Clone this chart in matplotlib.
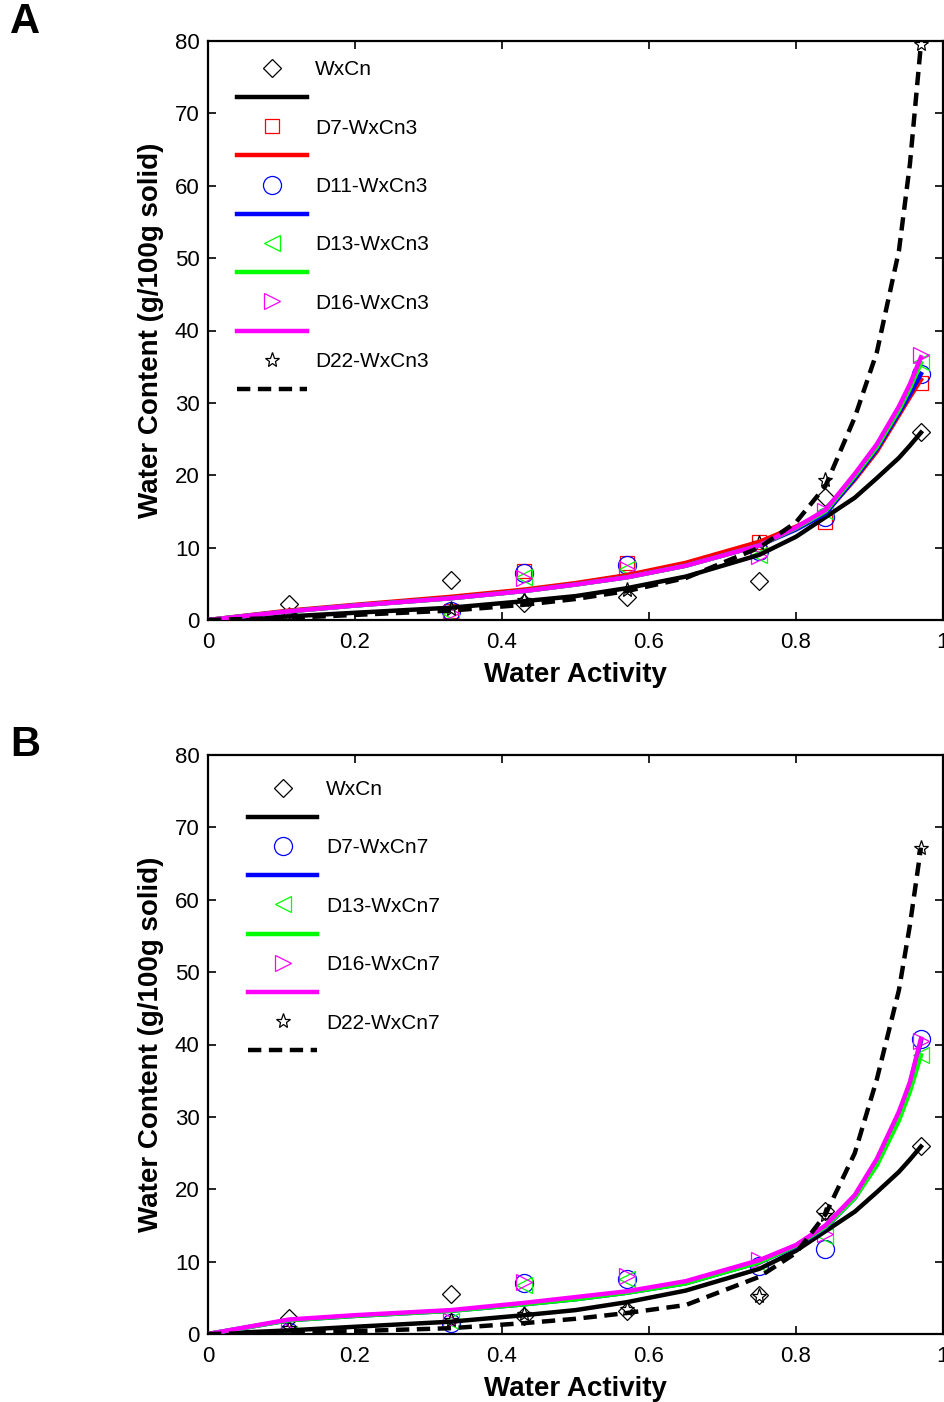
import matplotlib
matplotlib.use('Agg')
import matplotlib.pyplot as plt
from matplotlib.lines import Line2D

plt.rcParams['font.family'] = ['Liberation Sans', 'DejaVu Sans']

# measured points (water activity)
aw = [0.11, 0.33, 0.43, 0.57, 0.75, 0.84, 0.97]

# panel A measured water content
a_wxcn = [2.2, 5.5, 2.4, 3.2, 5.4, 17.0, 26.0]
a_d7 = [0.4, 1.2, 6.8, 7.9, 10.8, 13.5, 32.8]
a_d11 = [0.3, 1.2, 6.5, 7.6, 9.5, 14.2, 34.0]
a_d13 = [0.0, 0.8, 6.0, 7.0, 9.0, 15.0, 35.6]
a_d16 = [0.2, 1.0, 5.8, 7.0, 8.8, 15.0, 36.6]
a_d22 = [0.7, 1.5, 2.8, 4.1, 10.6, 19.3, 79.6]

# panel B measured water content
b_wxcn = [2.2, 5.5, 2.5, 3.2, 5.4, 17.0, 26.0]
b_d7 = [0.3, 1.5, 7.0, 7.6, 9.4, 11.8, 40.8]
b_d13 = [0.0, 1.8, 6.8, 7.6, 9.8, 13.5, 38.5]
b_d16 = [0.5, 1.8, 7.2, 8.0, 10.2, 13.8, 40.5]
b_d22 = [0.8, 2.0, 2.8, 3.5, 5.2, 16.5, 67.2]

# fitted curves
aw_fit = [0, 0.11, 0.2, 0.33, 0.43, 0.5, 0.57, 0.65, 0.75, 0.8, 0.84, 0.88, 0.91, 0.94, 0.955, 0.97]
fit_wxcn = [0, 0.5, 1.0, 1.7, 2.6, 3.3, 4.4, 6.0, 9.0, 11.5, 14.2, 16.9, 19.6, 22.4, 24.1, 25.9]
fa_d7 = [0, 1.3, 2.1, 3.2, 4.2, 5.1, 6.2, 7.9, 10.8, 12.9, 14.8, 19.4, 23.3, 28.3, 30.8, 33.2]
fa_d11 = [0, 1.2, 2.0, 3.0, 4.0, 4.9, 5.9, 7.5, 10.3, 12.5, 14.7, 19.6, 23.6, 28.6, 31.2, 34.0]
fa_d13 = [0, 1.2, 2.0, 3.0, 4.0, 4.9, 5.9, 7.5, 10.3, 12.7, 15.0, 19.9, 23.9, 29.0, 32.0, 35.5]
fa_d16 = [0, 1.2, 2.0, 3.0, 4.0, 4.9, 5.9, 7.5, 10.3, 12.8, 15.2, 20.2, 24.3, 29.5, 32.6, 36.3]
fa_d22 = [0, 0.3, 0.7, 1.3, 2.1, 2.9, 4.0, 5.8, 10.0, 13.5, 18.5, 28.0, 37.0, 51.0, 63.0, 79.6]

fb_d7 = [0, 1.9, 2.5, 3.2, 4.1, 4.8, 5.7, 7.0, 9.9, 12.1, 14.7, 18.8, 23.6, 30.2, 34.6, 40.5]
fb_d13 = [0, 1.9, 2.5, 3.2, 4.1, 4.8, 5.7, 7.0, 9.9, 12.2, 14.8, 18.8, 23.3, 29.5, 33.5, 38.5]
fb_d16 = [0, 2.0, 2.6, 3.3, 4.3, 5.1, 5.9, 7.3, 10.2, 12.3, 15.0, 19.2, 24.2, 30.7, 34.8, 40.8]
fb_d22 = [0, 0.2, 0.4, 0.8, 1.5, 2.1, 2.9, 4.0, 7.9, 11.2, 16.5, 25.0, 35.2, 47.5, 56.5, 67.2]

styles = {
    'D': dict(marker='D', ms=9), 's': dict(marker='s', ms=10.5),
    'o': dict(marker='o', ms=13), '<': dict(marker='<', ms=12),
    '>': dict(marker='>', ms=12), '*': dict(marker='*', ms=11),
}

series_a = [
    ('WxCn', a_wxcn, fit_wxcn, 'black', 'D', '-'),
    ('D7-WxCn3', a_d7, fa_d7, '#ff0000', 's', '-'),
    ('D11-WxCn3', a_d11, fa_d11, '#0000ff', 'o', '-'),
    ('D13-WxCn3', a_d13, fa_d13, '#00ff00', '<', '-'),
    ('D16-WxCn3', a_d16, fa_d16, '#ff00ff', '>', '-'),
    ('D22-WxCn3', a_d22, fa_d22, 'black', '*', (0, (3, 1.7))),
]
series_b = [
    ('WxCn', b_wxcn, fit_wxcn, 'black', 'D', '-'),
    ('D7-WxCn7', b_d7, fb_d7, '#0000ff', 'o', '-'),
    ('D13-WxCn7', b_d13, fb_d13, '#00ff00', '<', '-'),
    ('D16-WxCn7', b_d16, fb_d16, '#ff00ff', '>', '-'),
    ('D22-WxCn7', b_d22, fb_d22, 'black', '*', (0, (3, 1.7))),
]

fig = plt.figure(figsize=(9.45, 14.02), dpi=100)
ax_a = fig.add_axes([208 / 945, 1 - 620 / 1402, 735 / 945, 579 / 1402])
ax_b = fig.add_axes([208 / 945, 1 - 1334 / 1402, 735 / 945, 579 / 1402])


def draw(ax, series, leg_x, leg_y):
    handles, labels = [], []
    for name, pts, fit, col, mk, ls in series:
        st = styles[mk]
        ax.plot(aw, pts, linestyle='none', marker=st['marker'], ms=st['ms'],
                mfc='none', mec=col, mew=0.9, zorder=2)
        ax.plot(aw_fit, fit, color=col, lw=3.2, linestyle=ls, zorder=3)
        handles.append(Line2D([], [], linestyle='none', marker=st['marker'],
                              ms=st['ms'], mfc='none', mec=col, mew=0.9))
        labels.append(name)
        handles.append(Line2D([], [], color=col, lw=3.2, linestyle=ls))
        labels.append(' ')
    ax.set_xlim(0, 1)
    ax.set_ylim(0, 80)
    ax.set_xticks([0, 0.2, 0.4, 0.6, 0.8, 1])
    ax.set_xticklabels(['0', '0.2', '0.4', '0.6', '0.8', '1'])
    ax.set_yticks(range(0, 81, 10))
    ax.tick_params(direction='in', length=6, width=1.2, labelsize=16,
                   top=True, right=True, pad=6)
    ax.tick_params(axis='x', pad=9)
    for sp in ax.spines.values():
        sp.set_linewidth(1.6)
    ax.set_xlabel('Water Activity', fontsize=20, fontweight='bold', labelpad=6)
    ax.set_ylabel('Water Content (g/100g solid)', fontsize=20,
                  fontweight='bold', labelpad=8)
    ax.legend(handles, labels, loc='upper left', bbox_to_anchor=(leg_x, leg_y),
              frameon=False, fontsize=15, handlelength=3.35, handletextpad=0.4,
              labelspacing=0.49, borderpad=0, borderaxespad=0)


draw(ax_a, series_a, 0.0395, 0.967)
draw(ax_b, series_b, 0.054, 0.957)

fig.text(10 / 945, 1 - 22 / 1402, 'A', fontsize=30, fontweight='bold', va='center')
fig.text(10 / 945, 1 - 745 / 1402, 'B', fontsize=30, fontweight='bold', va='center')

fig.savefig('out.png', dpi=100)
